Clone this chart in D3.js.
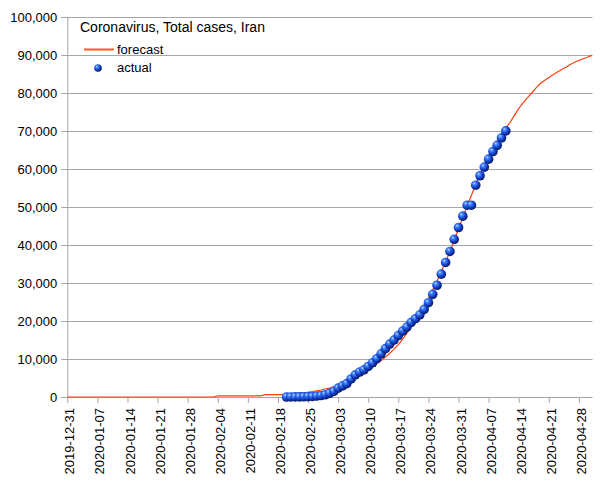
<!DOCTYPE html>
<html>
<head>
<meta charset="utf-8">
<script src="https://cdn.jsdelivr.net/npm/d3@7"></script>
<style>
  body { margin: 0; background: #fff; }
  svg text { font-family: "Liberation Sans", Arial, sans-serif; font-size: 13px; fill: #000; }
</style>
</head>
<body>
<svg id="chart" width="605" height="480"></svg>
<script>
// forecast: one value per day starting 2019-12-31
const forecastStart = '2019-12-31'
const forecastValues = [
  // 2019-12-31 .. 2020-02-03
  0, 0, 0, 0, 0, 0, 0, 0, 0, 0, 0, 0, 0, 0, 0, 0, 0, 0, 0, 0, 0, 0, 0, 0, 0, 0, 0, 0, 0, 0, 0, 0, 0, 0, 0,
  // 02-04 .. 02-14
  300, 300, 300, 300, 300, 300, 300, 300, 300, 300, 300,
  // 02-15 .. 02-19
  600, 600, 600, 600, 600,
  // 02-20 .. 02-29
  700, 800, 900, 1000, 1100, 1250, 1450, 1650, 1850, 2100,
  // 03-01 .. 03-31
  2350, 2650, 3000, 3400, 3900, 4500, 5100, 5800, 6500, 7200,
  8000, 8800, 9600, 10500, 11500, 12600, 13800, 15200, 16800, 18500,
  20300, 22200, 24100, 26000, 28200, 30500, 33000, 35600, 38300, 41200, 44200,
  // 04-01 .. 04-30
  47200, 50200, 53100, 56000, 58700, 61200, 63500, 65600, 67500, 69200,
  70800, 72300, 74100, 75900, 77400, 78700, 80000, 81300, 82500, 83300,
  84100, 84800, 85500, 86200, 86800, 87500, 88100, 88600, 89000, 89400,
  // 05-01
  89900
]

// actual: one value per day starting 2020-02-20
const actualStart = '2020-02-20'
const actualValues = [
  5, 18, 28, 43, 61, 95, 139, 245, 388, 593,
  978, 1501, 2336, 2922, 3513, 4747, 5823, 6566, 7161, 8042,
  9000, 10075, 11364, 12729, 13938, 14991, 16169, 17361, 18407, 19644,
  20610, 21638, 23049, 24811, 27017, 29406, 32332, 35408, 38309, 41495,
  44605, 47593, 50468, 50468, 55743, 58226, 60500, 62589, 64586, 66220,
  68192, 70029
]

const xTickLabels = [
  '2019-12-31', '2020-01-07', '2020-01-14', '2020-01-21', '2020-01-28', '2020-02-04',
  '2020-02-11', '2020-02-18', '2020-02-25', '2020-03-03', '2020-03-10', '2020-03-17',
  '2020-03-24', '2020-03-31', '2020-04-07', '2020-04-14', '2020-04-21', '2020-04-28'
]
const yTicks = [0, 10000, 20000, 30000, 40000, 50000, 60000, 70000, 80000, 90000, 100000]

const title = 'Coronavirus, Total cases, Iran'
const seriesNames = ['forecast', 'actual']

const parse = d3.utcParse('%Y-%m-%d')
const dayAfter = (start, i) => d3.utcDay.offset(parse(start), i)

const forecast = forecastValues.map((v, i) => ({ date: dayAfter(forecastStart, i), value: v }))
const actual = actualValues.map((v, i) => ({ date: dayAfter(actualStart, i), value: v }))

const plotLeft = 67.3, plotRight = 591.8, plotTop = 17, plotBottom = 397
const gridColor = '#a6a6a6'
const lineColor = '#ff3d0d'

const svg = d3.select('#chart')

const x = d3.scaleUtc()
  .domain([parse('2019-12-31'), parse('2020-05-01')])
  .range([plotLeft, plotRight])
const y = d3.scaleLinear()
  .domain([0, 100000])
  .range([plotBottom, plotTop])

// sphere look for the points
const defs = svg.append('defs')
const grad = defs.append('radialGradient')
  .attr('id', 'ball')
  .attr('cx', '40%').attr('cy', '38%').attr('r', '62%')
  .attr('fx', '34%').attr('fy', '30%')
grad.append('stop').attr('offset', '0%').attr('stop-color', '#d6e8ff')
grad.append('stop').attr('offset', '22%').attr('stop-color', '#4a8cff')
grad.append('stop').attr('offset', '62%').attr('stop-color', '#1444d0')
grad.append('stop').attr('offset', '100%').attr('stop-color', '#05165e')

// horizontal grid
svg.append('g')
  .selectAll('line')
  .data(yTicks.filter(d => d > 0))
  .join('line')
  .attr('x1', plotLeft).attr('x2', plotRight + 0.7)
  .attr('y1', d => Math.round(y(d)) + 0.5)
  .attr('y2', d => Math.round(y(d)) + 0.5)
  .attr('stroke', gridColor)
  .attr('stroke-width', 1)

// y axis
const yAxis = svg.append('g')
  .attr('transform', `translate(${plotLeft},0)`)
  .call(d3.axisLeft(y).tickValues(yTicks).tickFormat(d3.format(',')).tickSize(6).tickPadding(4))
yAxis.select('.domain').attr('stroke', gridColor)
yAxis.selectAll('.tick line').attr('stroke', gridColor)
yAxis.selectAll('.tick text')
  .style('font-family', '"Liberation Sans", Arial, sans-serif')
  .style('font-size', '13px')
  .attr('fill', '#000')

// x axis
const xAxis = svg.append('g')
  .attr('transform', `translate(0,${plotBottom})`)
  .call(d3.axisBottom(x).tickValues(xTickLabels.map(parse)).tickFormat(d3.utcFormat('%Y-%m-%d')).tickSize(6).tickSizeOuter(0))
xAxis.select('.domain').attr('stroke', gridColor).attr('d', `M${plotLeft},0.5H${plotRight + 0.7}`)
xAxis.selectAll('.tick line').attr('stroke', gridColor)
xAxis.selectAll('.tick text')
  .style('font-family', '"Liberation Sans", Arial, sans-serif')
  .style('font-size', '13px')
  .attr('fill', '#000')
  .attr('text-anchor', 'end')
  .attr('transform', 'rotate(-90)')
  .attr('x', -11)
  .attr('y', 2)
  .attr('dy', '0.35em')

// forecast line
svg.append('path')
  .datum(forecast)
  .attr('fill', 'none')
  .attr('stroke', lineColor)
  .attr('stroke-width', 1.2)
  .attr('d', d3.line().x(d => x(d.date)).y(d => y(d.value)))

// actual points
svg.append('g')
  .selectAll('circle')
  .data(actual)
  .join('circle')
  .attr('cx', d => x(d.date))
  .attr('cy', d => y(d.value))
  .attr('r', 4.8)
  .attr('fill', 'url(#ball)')

// title and legend
svg.append('text').attr('x', 80).attr('y', 31.5).style('font-size', '14px').text(title)

const legend = svg.append('g')
legend.append('line')
  .attr('x1', 84).attr('x2', 114).attr('y1', 49.5).attr('y2', 49.5)
  .attr('stroke', '#ff5a1e').attr('stroke-width', 2)
legend.append('text').attr('x', 117).attr('y', 54).text(seriesNames[0])
legend.append('circle').attr('cx', 98).attr('cy', 68).attr('r', 3.8).attr('fill', 'url(#ball)')
legend.append('text').attr('x', 117).attr('y', 72).text(seriesNames[1])
</script>
</body>
</html>
